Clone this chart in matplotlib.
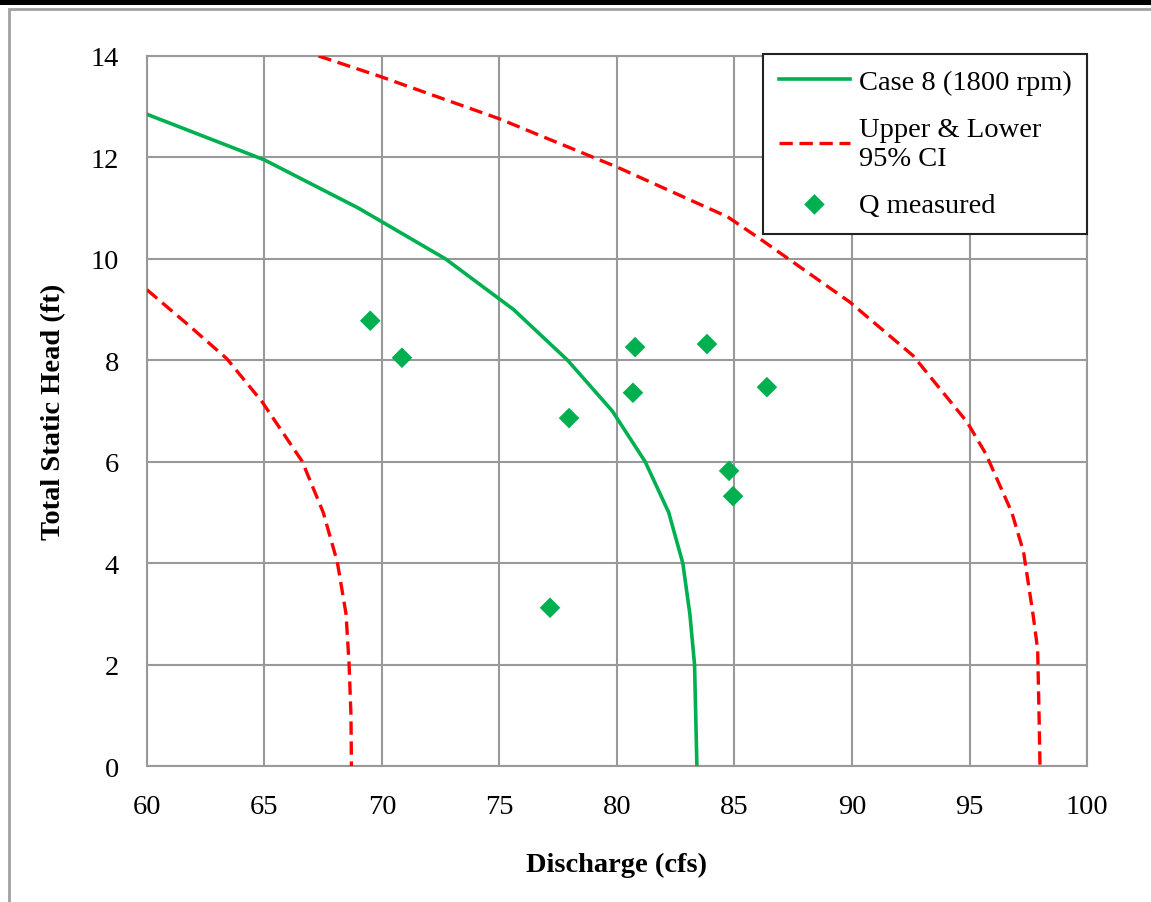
import matplotlib
matplotlib.use("Agg")
import matplotlib.pyplot as plt
from matplotlib.patches import Rectangle

plt.rcParams['font.family'] = ['Liberation Serif', 'DejaVu Serif']

# pump curve, case 8
q_case8 = [60, 65, 69, 72.7, 75.6, 77.9, 79.8, 81.2, 82.2, 82.8, 83.1, 83.3, 83.35, 83.4]
h_case8 = [12.85, 11.95, 11.0, 10.0, 9.0, 8.0, 7.0, 6.0, 5.0, 4.0, 3.0, 2.0, 1.0, 0.0]

# 95% CI bounds
q_upper = [67.3, 69.9, 75.0, 80.0, 84.7, 86.1, 89.9, 92.6, 94.9, 95.7, 96.8, 97.3, 97.7, 97.9, 97.96, 98.0]
h_upper = [14.0, 13.6, 12.76, 11.81, 10.83, 10.39, 9.15, 8.09, 6.78, 6.15, 5.0, 4.22, 3.0, 2.3, 1.0, 0.0]
q_lower = [60, 61.8, 63.4, 64.9, 66.6, 67.5, 68.1, 68.47, 68.6, 68.68, 68.7]
h_lower = [9.39, 8.68, 8.03, 7.18, 6.01, 5.0, 4.02, 3.0, 2.01, 1.0, 0.0]

# measured points
q_meas = [69.5, 70.85, 77.96, 80.77, 80.68, 83.83, 86.38, 84.77, 84.94, 77.15]
h_meas = [8.78, 8.05, 6.86, 8.26, 7.36, 8.32, 7.47, 5.82, 5.32, 3.12]

green = '#00B050'
red = '#FF0000'
grid_c = '#999999'

fig = plt.figure(figsize=(11.51, 9.03), dpi=100)
ax = fig.add_axes([0.1277, 0.1506, 0.8167, 0.7863])

# outer frame like the spreadsheet chart area
fig.patches.append(Rectangle((9 / 1151, -0.1), 1.2, (903 - 10) / 903 + 0.1,
                             transform=fig.transFigure, fill=False,
                             edgecolor='#a0a0a0', linewidth=2, zorder=0))
fig.patches.append(Rectangle((0, (903 - 6) / 903), 1, 6 / 903,
                             transform=fig.transFigure, facecolor='black',
                             edgecolor='none', zorder=1))

ax.plot(q_case8, h_case8, color=green, lw=2.6, label='Case 8 (1800 rpm)', zorder=3)
ax.plot(q_upper, h_upper, color=red, lw=2.4, dashes=(4, 2), label='Upper & Lower\n95% CI', zorder=3)
ax.plot(q_lower, h_lower, color=red, lw=2.4, dashes=(4, 2), zorder=3)
ax.scatter(q_meas, h_meas, marker='D', s=110, color=green, edgecolors='none',
           label='Q measured', zorder=4)

ax.set_xlim(60, 100)
ax.set_ylim(0, 14)
ax.set_xticks(range(60, 101, 5))
ax.set_yticks(range(0, 15, 2))
ax.grid(True, color=grid_c, lw=1.5)
ax.set_axisbelow(True)
for s in ax.spines.values():
    s.set_color(grid_c)
    s.set_linewidth(1.5)
ax.tick_params(length=0, labelsize=20.5, pad=20)
ax.tick_params(axis='y', pad=20)

ax.set_xlabel('Discharge (cfs)', fontsize=20.5, fontweight='bold', labelpad=24)
ax.set_ylabel('Total Static Head (ft)', fontsize=20.5, fontweight='bold', labelpad=18)

leg = ax.legend(loc='upper right', bbox_to_anchor=(1.0, 1.003), fontsize=20.5,
                frameon=True, fancybox=False, handlelength=2.5, labelspacing=0.75,
                borderpad=0.55, handletextpad=0.3, borderaxespad=0)
leg.get_frame().set_edgecolor('#222222')
leg.get_frame().set_linewidth(1.5)
leg.get_frame().set_alpha(1)

fig.savefig('out.png', dpi=100)
